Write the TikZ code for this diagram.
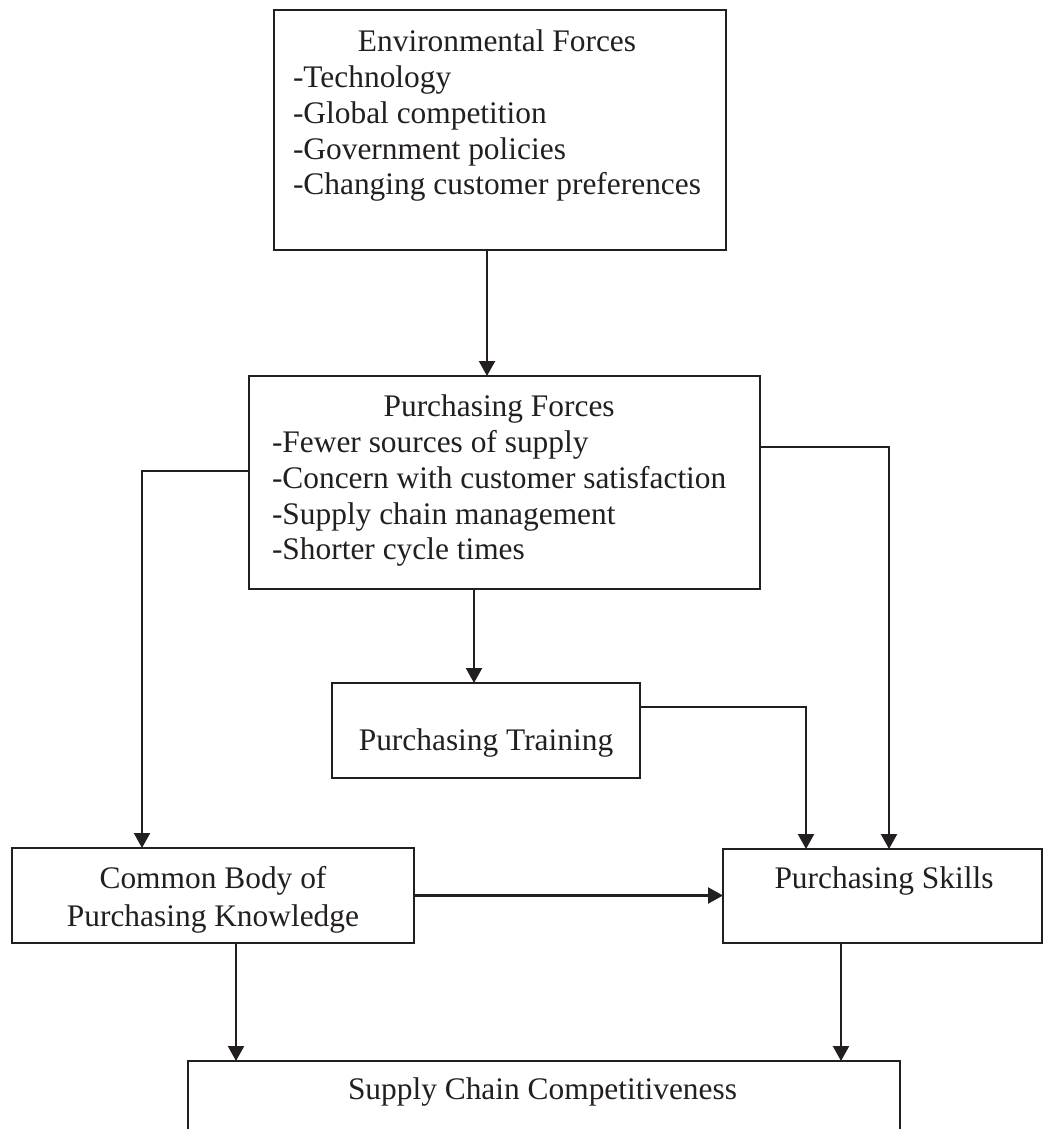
\documentclass[tikz,border=0pt]{standalone}
\usepackage{fontspec}
\setmainfont{Liberation Serif}
\usetikzlibrary{arrows.meta}
\definecolor{ink}{HTML}{231F20}
\begin{document}
\begin{tikzpicture}[x=1pt,y=-1pt,
  box/.style={draw=ink, line width=2.2pt, rectangle, inner sep=0pt, outer sep=0pt},
  txt/.style={inner sep=0pt, outer sep=0pt, text=ink, font=\fontsize{31.4pt}{35.7pt}\selectfont},
  arr/.style={draw=ink, line width=2.2pt, -{Triangle[length=15pt,width=16pt]}}]
\useasboundingbox (0,0) rectangle (1044,1129);
\clip (0,0) rectangle (1044,1129);
\fill[white] (0,0) rectangle (1044,1129);
% boxes
\node[box, minimum width=452pt, minimum height=240pt] (env) at (500,130) {};
\node[box, minimum width=511pt, minimum height=213pt] (pf) at (504.5,482.5) {};
\node[box, minimum width=308pt, minimum height=95pt] (pt) at (486,730.5) {};
\node[box, minimum width=402pt, minimum height=95pt] (cb) at (213,895.5) {};
\node[box, minimum width=319pt, minimum height=94pt] (sk) at (882.5,896) {};
\node[box, minimum width=712pt, minimum height=140pt] (scc) at (544,1131) {};
% texts
\node[txt, anchor=north west] (envt) at (293,27) {\begin{tabular}{@{}l@{}}\multicolumn{1}{@{}c@{}}{Environmental Forces}\\-Technology\\-Global competition\\-Government policies\\-Changing customer preferences\end{tabular}};
\node[txt, anchor=north west] (pft) at (272,392) {\begin{tabular}{@{}l@{}}\multicolumn{1}{@{}c@{}}{Purchasing Forces}\\-Fewer sources of supply\\-Concern with customer satisfaction\\-Supply chain management\\-Shorter cycle times\end{tabular}};
\node[txt, anchor=base] (ptt) at (486,750) {Purchasing Training};
\node[txt, anchor=north] (cbt) at (213,863) {\begin{tabular}{@{}c@{}}Common Body of\\[3pt]Purchasing Knowledge\end{tabular}};
\node[txt, anchor=base] (skt) at (884,888) {Purchasing Skills};
\node[txt, anchor=base] (scct) at (542.5,1099) {Supply Chain Competitiveness};
% connectors
\draw[arr] ([xshift=-13pt]env.south) -- ([xshift=-13pt]env.south |- pf.north);
\draw[arr] ([xshift=-12pt]pt.north |- pf.south) -- ([xshift=-12pt]pt.north);
\draw[arr] ([yshift=11.5pt]pf.west) -| ([xshift=-71pt]cb.north);
\draw[arr] ([yshift=35.5pt]pf.east) -| ([xshift=6.5pt]sk.north);
\draw[arr] ([yshift=23.5pt]pt.east) -| ([xshift=-76.5pt]sk.north);
\draw[arr] (cb.east) -- (cb.east -| sk.west);
\draw[arr] ([xshift=23pt]cb.south) -- ([xshift=23pt]cb.south |- scc.north);
\draw[arr] ([xshift=-41.5pt]sk.south) -- ([xshift=-41.5pt]sk.south |- scc.north);
\end{tikzpicture}
\end{document}
